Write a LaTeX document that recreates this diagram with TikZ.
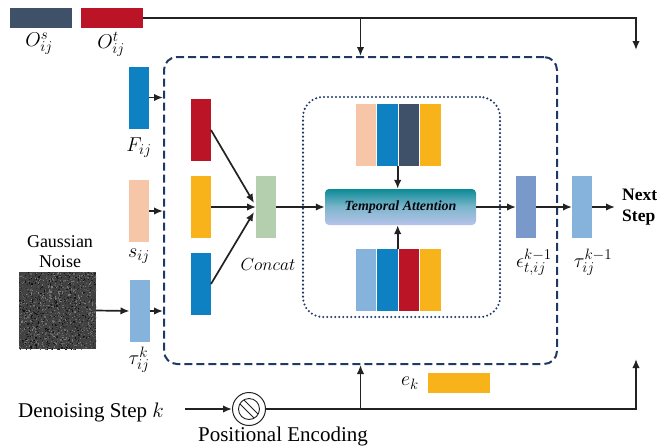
\RequirePackage{fix-cm}
\documentclass[tikz,border=0pt]{standalone}
\usepackage{fontspec}
\setmainfont{Liberation Serif}
\usetikzlibrary{arrows.meta,calc}
\DeclareMathSizes{20}{20}{15}{11}
\DeclareMathSizes{17.5}{17.5}{13}{10}
\DeclareMathSizes{21}{21}{15}{11}
\definecolor{cslate}{HTML}{3E5169}
\definecolor{cred}{HTML}{BA1426}
\definecolor{cblue}{HTML}{0E81C2}
\definecolor{cpeach}{HTML}{F7C6A8}
\definecolor{cyel}{HTML}{F9B31A}
\definecolor{clb}{HTML}{85B3DB}
\definecolor{cgreen}{HTML}{B3CFAE}
\definecolor{ceps}{HTML}{7A99CB}
\definecolor{navy}{HTML}{1F3864}
\definecolor{tatop}{HTML}{0B8A96}
\definecolor{tamid}{HTML}{7DB6CC}
\definecolor{tabot}{HTML}{B7C2EA}
\definecolor{ink}{HTML}{222222}
\tikzset{
  bar/.style={minimum width=20pt, minimum height=62pt, inner sep=0pt, outer sep=0pt},
  sbar/.style={bar, minimum width=20.4pt},
  hbar/.style={minimum width=62pt, minimum height=20pt, inner sep=0pt, outer sep=0pt},
  arr/.style={line width=1.7pt, draw=ink, -{Latex[length=9pt,width=7.5pt]}},
  lbl/.style={inner sep=0pt, font=\fontsize{20}{22}\selectfont},
  txt/.style={inner sep=0pt, font=\fontsize{21}{24}\selectfont},
}
\begin{document}
\begin{tikzpicture}[x=1pt,y=-1pt]
\useasboundingbox (0,0) rectangle (659,445);

% container boxes
\node[draw=navy, line width=2pt, dash pattern=on 8pt off 4pt, rounded corners=13pt,
      minimum width=393pt, minimum height=307pt, inner sep=0pt] (main) at (360.5,210.5) {};
\node[draw=navy, line width=2.3pt, dash pattern=on 0pt off 4pt, line cap=round, rounded corners=20pt,
      minimum width=197pt, minimum height=220pt, inner sep=0pt] (att) at (401.5,207) {};

% top bars
\node[hbar, fill=cslate] (Os) at (41,18) {};
\node[hbar, fill=cred] (Ot) at (112,18) {};
\node[lbl] (Osl) at (39,44) {$O^{s}_{ij}$};
\node[lbl] (Otl) at (111,44) {$O^{t}_{ij}$};

% left inputs
\node[bar, fill=cblue] (F) at (139,97.5) {};
\node[lbl] (Fl) at (139,148) {$F_{ij}$};
\node[bar, fill=cpeach] (s) at (139,211) {};
\node[lbl] (sl) at (139,256) {$s_{ij}$};
\node[bar, fill=clb] (tau) at (139.5,311) {};
\node[lbl] (taul) at (139,360) {$\tau^{k}_{ij}$};

% gaussian noise
\begin{scope}
  \clip (19,272) rectangle (96,349);
  \fill[black!74] (19,272) rectangle (96,349);
  \pgfmathsetseed{7}
  \foreach \i in {1,...,1800}{
    \pgfmathsetmacro\xx{19+77*rnd}
    \pgfmathsetmacro\yy{272+77*rnd}
    \pgfmathsetmacro\gg{50+45*rnd}
    \fill[black!\gg] (\xx,\yy) rectangle ++(1.2,1.2);
  }
\end{scope}
\node[minimum width=77pt, minimum height=77pt, inner sep=0pt] (noise) at (57.5,310.5) {};
\node[inner sep=0pt, align=center, font=\fontsize{18}{20}\selectfont] (gn) at (60,252) {Gaussian\\Noise};

% inner bars
\node[bar, fill=cred] (r1) at (201,130) {};
\node[bar, fill=cyel] (r2) at (201,207) {};
\node[bar, fill=cblue] (r3) at (201,284) {};
\node[bar, fill=cgreen] (cc) at (266,207) {};
\node[inner sep=0pt, font=\fontsize{17.5}{20}\selectfont] (ccl) at (268,265) {$Concat$};

% temporal attention
\node[rounded corners=4pt, top color=tatop, bottom color=tabot, middle color=tamid,
      minimum width=151pt, minimum height=36pt, inner sep=0pt,
      font=\fontsize{14}{16}\selectfont\bfseries\itshape, text=black!85!navy] (TA) at (400.5,207) {Temporal Attention};

% stacks
\node[sbar, fill=cpeach] (t1) at (366,135) {};
\node[sbar, fill=cblue]  (t2) at (387.5,135) {};
\node[sbar, fill=cslate] (t3) at (409,135) {};
\node[sbar, fill=cyel]   (t4) at (430.5,135) {};
\node[sbar, fill=clb]    (b1) at (366,280) {};
\node[sbar, fill=cblue]  (b2) at (387.5,280) {};
\node[sbar, fill=cred]   (b3) at (409,280) {};
\node[sbar, fill=cyel]   (b4) at (430.5,280) {};

% outputs
\node[bar, fill=ceps] (eps) at (526,207) {};
\node[lbl] (epsl) at (534,262) {$\epsilon^{k-1}_{t,ij}$};
\node[bar, fill=clb] (tau1) at (582,207) {};
\node[lbl] (tau1l) at (593,262) {$\tau^{k-1}_{ij}$};
\node[inner sep=0pt, align=left, anchor=west, font=\fontsize{17.5}{21}\selectfont\bfseries] (next) at (622,207) {Next\\Step};
\coordinate (nx) at (615,207);

% e_k
\node[lbl] (ekl) at (410,383) {$e_{k}$};
\node[hbar, fill=cyel] (ek) at (459,383) {};

% bottom
\node[txt, anchor=base west] (den) at (18,417) {Denoising Step $k$};
\node[circle, draw=ink, line width=1pt, minimum size=33pt, inner sep=0pt] (pe) at (249,409) {};
\draw[ink, line width=0.9pt] (pe.center) circle (10.5pt);
\begin{scope}
  \clip (pe.center) circle (10.5pt);
  \draw[ink, line width=0.9pt] ($(pe.center)+(-9,-13)$) -- ($(pe.center)+(13,9)$);
  \draw[ink, line width=0.9pt] ($(pe.center)+(-13,-9)$) -- ($(pe.center)+(9,13)$);
\end{scope}
\node[txt, anchor=base] (pel) at (283,441) {Positional Encoding};
\coordinate (ds) at (185,409);
\coordinate (br) at (636,359);
\coordinate (tr) at (636,50);

% connectors
\draw[arr] (Ot.east) -| (tr);
\draw[arr] (main.north |- Ot.east) -- (main.north);
\draw[arr] (F.east) -- (main.west |- F.east);
\draw[arr] (s.east) -- (main.west |- s.east);
\draw[arr] (noise.east) -- (tau.west);
\draw[arr] (tau.east) -- (main.west |- tau.east);
\draw[arr] (r1.east) -- ($(cc.west)+(-2,-4)$);
\draw[arr] (r2.east) -- (cc.west);
\draw[arr] (r3.east) -- ($(cc.west)+(-2,5)$);
\draw[arr] (cc.east) -- (TA.west);
\draw[arr] (t2.south east) -- (t2.south east |- TA.north);
\draw[arr] (b2.north east) -- (b2.north east |- TA.south);
\draw[arr] (TA.east) -- (eps.west);
\draw[arr] (eps.east) -- (tau1.west);
\draw[arr] (tau1.east) -- (nx);
\draw[arr] (ds) -- (pe.west);
\draw[arr] (pe.east) -| (br);
\draw[arr] (main.south |- pe.east) -- (main.south);
\end{tikzpicture}
\end{document}
